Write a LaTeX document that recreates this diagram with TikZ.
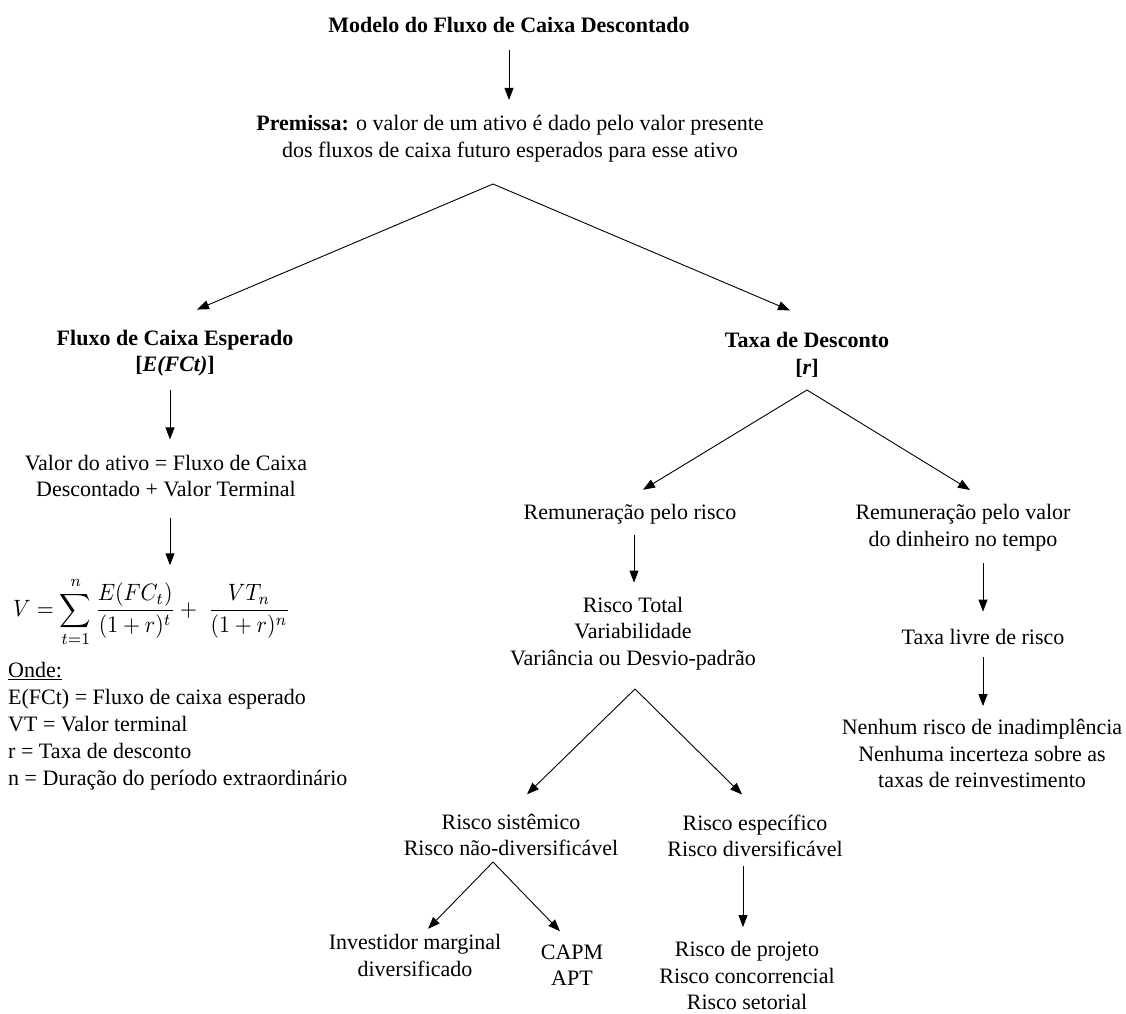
\documentclass[tikz,border=0pt]{standalone}
\usepackage{fontspec}
\setmainfont{Liberation Serif}
\usepackage{graphicx}
\usetikzlibrary{arrows.meta}
\begin{document}
\begin{tikzpicture}[x=1pt,y=-1pt,
  txt/.style={inner sep=0pt, align=center, font=\fontsize{22}{26.5}\selectfont},
  bld/.style={txt, font=\fontsize{22}{26.5}\selectfont\bfseries},
  arr/.style={draw=black, line width=0.9pt, -{Triangle[length=12pt,width=9pt]}}]
\useasboundingbox (0,0) rectangle (1126,1013);

% --- text blocks ---
\node[bld] (title) at (509,24.8) {Modelo do Fluxo de Caixa Descontado};
\node[txt] (prem) at (510,138.7) {\textbf{Premissa:} o valor de um ativo é dado pelo valor presente\\dos fluxos de caixa futuro esperados para esse ativo};

\node[bld] (fce) at (175,353) {Fluxo de Caixa Esperado\\{}[\textit{E(FCt)}]};
\node[txt] (valor) at (166,476) {Valor do ativo = Fluxo de Caixa\\Descontado + Valor Terminal};
\node[inner sep=0pt, anchor=west] (form) at (13,612)
  {\resizebox*{277pt}{69pt}{$\displaystyle V=\sum_{t=1}^{n}\frac{E(FC_t)}{(1+r)^t}+\;\frac{VT_n}{(1+r)^n}$}};
\node[txt, align=left, anchor=west, font=\fontsize{22}{27}\selectfont] (onde) at (8,726)
  {\underline{Onde:}\\E(FCt) = Fluxo de caixa esperado\\VT = Valor terminal\\r = Taxa de desconto\\n = Duração do período extraordinário};

\node[bld] (taxa) at (807,355) {Taxa de Desconto\\{}[\textit{r}]};
\node[txt] (rrisco) at (630,514.2) {Remuneração pelo risco};
\node[txt] (rvalor) at (963,527.7) {Remuneração pelo valor\\do dinheiro no tempo};
\node[txt] (rtotal) at (633,633.6) {Risco Total\\Variabilidade\\Variância ou Desvio-padrão};
\node[txt] (tlivre) at (983,636.8) {Taxa livre de risco};
\node[txt] (nenhum) at (982,753.8) {Nenhum risco de inadimplência\\Nenhuma incerteza sobre as\\taxas de reinvestimento};

\node[txt] (rsist) at (511,834.8) {Risco sistêmico\\Risco não-diversificável};
\node[txt] (respec) at (755,835.8) {Risco específico\\Risco diversificável};
\node[txt] (invest) at (415,955.3) {Investidor marginal\\diversificado};
\node[txt] (capm) at (572,965.3) {CAPM\\APT};
\node[txt] (rproj) at (747,975.8) {Risco de projeto\\Risco concorrencial\\Risco setorial};

% --- branching points ---
\coordinate (papex) at (493,184);
\coordinate (tapex) at (807,390);
\coordinate (vapex) at (635,689);
\coordinate (sapex) at (493,862);

% --- connectors ---
\draw[arr] ([yshift=-17.5pt]title.south) -- ([yshift=15.3pt]title.south |- prem.north);
\draw[arr] (papex) -- ([xshift=22pt,yshift=20pt]fce.north);
\draw[arr] (papex) -- ([xshift=-17pt,yshift=22pt]taxa.north);

\draw[arr] ([xshift=-5pt,yshift=-14pt]fce.south) -- ([xshift=-5pt,yshift=15.3pt]fce.south |- valor.north);
\draw[arr] ([xshift=4pt,yshift=-20.7pt]valor.south) -- ([xshift=4pt,yshift=12pt]valor.south |- form.north);

\draw[arr] (tapex) -- ([xshift=13pt,yshift=14.3pt]rrisco.north);
\draw[arr] (tapex) -- ([xshift=7pt,yshift=14.3pt]rvalor.north);

\draw[arr] ([xshift=4pt,yshift=-11pt]rrisco.south) -- ([xshift=4pt,yshift=14.3pt]rrisco.south |- rtotal.north);
\draw[arr] ([yshift=-12pt]tlivre.north |- rvalor.south) -- ([yshift=17.3pt]tlivre.north);
\draw[arr] ([yshift=-12.7pt]tlivre.south) -- ([yshift=13.3pt]tlivre.south |- nenhum.north);

\draw[arr] (vapex) -- ([xshift=16pt,yshift=19.3pt]rsist.north);
\draw[arr] (vapex) -- ([xshift=-13pt,yshift=20pt]respec.north);

\draw[arr] (sapex) -- ([xshift=13pt,yshift=5.3pt]invest.north);
\draw[arr] (sapex) -- ([xshift=-12pt,yshift=13.3pt]capm.north);

\draw[arr] ([xshift=-12pt,yshift=-8.7pt]respec.south) -- ([xshift=-12pt,yshift=14.3pt]respec.south |- rproj.north);
\end{tikzpicture}
\end{document}
